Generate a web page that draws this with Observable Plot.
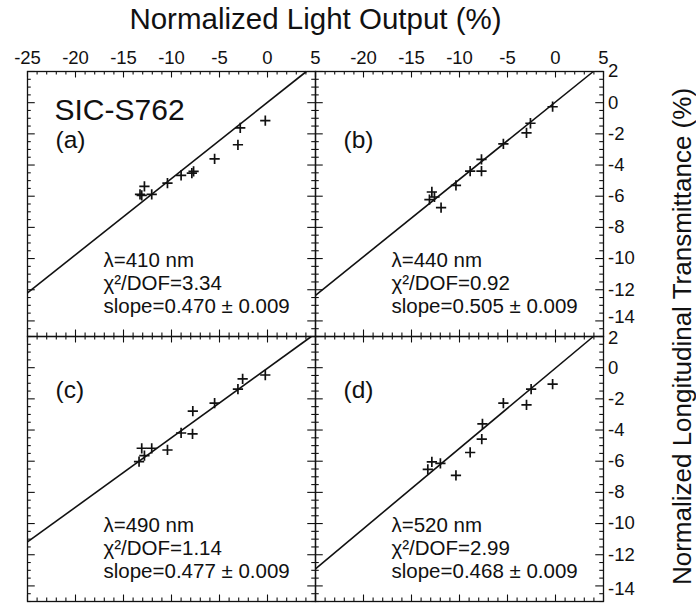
<!DOCTYPE html>
<html><head><meta charset="utf-8">
<script src="https://cdn.jsdelivr.net/npm/d3@7"></script>
<script src="https://cdn.jsdelivr.net/npm/@observablehq/plot@0.6"></script>
<style>body{margin:0;background:#fff}</style>
</head><body><div id="chart"></div>
<script>
// ---- data ----
const panelIds = ["a", "b", "c", "d"];
const panelCols = ["L", "R", "L", "R"];
const panelRows = ["top", "top", "bottom", "bottom"];
const panelLabels = ["(a)", "(b)", "(c)", "(d)"];
const wavelengths = ["λ=410 nm", "λ=440 nm", "λ=490 nm", "λ=520 nm"];
const chiLabels = ["χ²/DOF=3.34", "χ²/DOF=0.92", "χ²/DOF=1.14", "χ²/DOF=2.99"];
const slopeLabels = ["slope=0.470 ± 0.009", "slope=0.505 ± 0.009", "slope=0.477 ± 0.009", "slope=0.468 ± 0.009"];
const sampleName = "SIC-S762";

// light output (x) and transmittance (y), per panel
const xa = [-13.28, -13.1, -12.82, -12.06, -10.42, -9.0, -7.88, -7.7, -5.51, -3.08, -2.84, -0.23];
const ya = [-5.88, -5.95, -5.37, -5.88, -5.16, -4.66, -4.52, -4.41, -3.6, -2.7, -1.62, -1.15];
const xb = [-13.13, -12.88, -12.61, -11.92, -10.37, -8.89, -7.71, -7.71, -5.43, -3.02, -2.61, -0.3];
const yb = [-6.22, -5.73, -6.05, -6.73, -5.3, -4.39, -4.39, -3.64, -2.64, -1.94, -1.32, -0.26];
const xc = [-13.38, -13.1, -12.82, -12.06, -10.42, -9.0, -7.81, -7.78, -5.51, -3.08, -2.59, -0.23];
const yc = [-6.03, -5.17, -5.64, -5.17, -5.28, -4.19, -4.25, -2.79, -2.28, -1.37, -0.72, -0.47];
const xd = [-13.3, -12.88, -11.99, -10.37, -8.89, -7.68, -7.61, -5.43, -3.02, -2.54, -0.3];
const yd = [-6.53, -6.04, -6.14, -6.91, -5.44, -4.58, -3.61, -2.28, -2.39, -1.38, -1.06];
const xsAll = [xa, xb, xc, xd];
const ysAll = [ya, yb, yc, yd];

// fitted lines (end points)
const fitX1 = [-25, -25, -25, -25];
const fitY1 = [-12.2, -12.36, -11.18, -12.9];
const fitX2 = [4.05, 3.94, 4.57, 3.94];
const fitY2 = [2, 2, 2, 2];

// ticks
const xMajor = [-25, -20, -15, -10, -5, 0, 5];
const xMinor = d3.range(-25, 5.001, 1).filter(v => v % 5 !== 0);
const yMajor = [2, 0, -2, -4, -6, -8, -10, -12, -14];
const yMinor = d3.range(-15, 2.001, 0.5).filter(v => v % 2 !== 0);
const topTickLabelsL = [-25, -20, -15, -10, -5, 0, 5];
const topTickLabelsR = [-20, -15, -10, -5, 0, 5];
const rightTickLabels = [2, 0, -2, -4, -6, -8, -10, -12, -14];
const xTitle = "Normalized Light Output (%)";
const yTitle = "Normalized Longitudinal Transmittance (%)";

// ---- build tables ----
const points = panelIds.flatMap((p, i) => xsAll[i].map((x, j) => ({x, y: ysAll[i][j], col: panelCols[i], row: panelRows[i]})));
const fits = panelIds.map((p, i) => ({x1: fitX1[i], y1: fitY1[i], x2: fitX2[i], y2: fitY2[i], col: panelCols[i], row: panelRows[i]}));
const texts = panelIds.map((p, i) => ({col: panelCols[i], row: panelRows[i], label: panelLabels[i], wl: wavelengths[i], chi: chiLabels[i], slope: slopeLabels[i]}));
const topLabels = [
  ...topTickLabelsL.map(v => ({v, col: "L", row: "top"})),
  ...topTickLabelsR.map(v => ({v, col: "R", row: "top"}))
];
const rightLabels = ["top", "bottom"].flatMap(row => rightTickLabels.map(v => ({v, col: "R", row})));
const yLo = d3.min(rightTickLabels), yHi = d3.max(rightTickLabels);
// edge labels nudged inward a little, as in the reference
const rlMid = rightLabels.filter(d => !(d.row === "top" && d.v === yLo) && !(d.row === "bottom" && (d.v === yHi || d.v === yLo)));
const rlTopLow = rightLabels.filter(d => d.row === "top" && d.v === yLo);
const rlBotHigh = rightLabels.filter(d => d.row === "bottom" && d.v === yHi);
const rlBotLow = rightLabels.filter(d => d.row === "bottom" && d.v === yLo);

const W = 696, H = 605, mt = 71, mb = 4, ml = 26, mr = 92.5;
const ph = (H - mt - mb) / 2, pw = (W - ml - mr) / 2;
const ink = "#111";
const font = "Liberation Sans, Arial, Helvetica, sans-serif";
const tickW = 1.1;
const tickFont = 18.5;
const rl = (data, dy) => Plot.text(data, {y: "v", fx: "col", fy: "row", text: d => String(d.v), frameAnchor: "right", dx: 4.5, dy, textAnchor: "start", lineAnchor: "middle", fontSize: tickFont, fill: ink});

const chart = Plot.plot({
  width: W, height: H,
  marginTop: mt, marginBottom: mb, marginLeft: ml, marginRight: mr,
  x: {domain: [-25, 5], axis: null},
  y: {domain: [-15, 2], axis: null},
  fx: {domain: ["L", "R"], padding: 0, axis: null},
  fy: {domain: ["top", "bottom"], padding: 0, axis: null},
  style: {fontFamily: font, background: "#fff", color: ink, overflow: "visible"},
  marks: [
    // ticks on all four sides, pointing inward
    Plot.tickX(xMajor, {x: d => d, insetBottom: ph - 6.5, stroke: ink, strokeWidth: tickW}),
    Plot.tickX(xMinor, {x: d => d, insetBottom: ph - 3.5, stroke: ink, strokeWidth: tickW}),
    Plot.tickX(xMajor, {x: d => d, insetTop: ph - 6.5, stroke: ink, strokeWidth: tickW}),
    Plot.tickX(xMinor, {x: d => d, insetTop: ph - 3.5, stroke: ink, strokeWidth: tickW}),
    Plot.tickY(yMajor, {y: d => d, insetRight: pw - 8.5, stroke: ink, strokeWidth: tickW}),
    Plot.tickY(yMinor, {y: d => d, insetRight: pw - 4.5, stroke: ink, strokeWidth: tickW}),
    Plot.tickY(yMajor, {y: d => d, insetLeft: pw - 8.5, stroke: ink, strokeWidth: tickW}),
    Plot.tickY(yMinor, {y: d => d, insetLeft: pw - 4.5, stroke: ink, strokeWidth: tickW}),
    Plot.frame({stroke: ink, strokeWidth: 1.3}),
    // fit lines and data
    Plot.link(fits, {x1: "x1", y1: "y1", x2: "x2", y2: "y2", fx: "col", fy: "row", stroke: ink, strokeWidth: 1.6}),
    Plot.dot(points, {x: "x", y: "y", fx: "col", fy: "row", symbol: "plus", r: 3.4, stroke: ink, strokeWidth: 1.7}),
    // tick labels
    Plot.text(topLabels, {x: "v", fx: "col", fy: "row", text: d => String(d.v), frameAnchor: "top", dy: -7.5, lineAnchor: "bottom", fontSize: tickFont, fill: ink}),
    rl(rlMid, 0),
    rl(rlTopLow, -3.5),
    rl(rlBotHigh, 2),
    rl(rlBotLow, 3.5),
    // titles
    Plot.text([{col: "L", row: "top", t: xTitle}], {fx: "col", fy: "row", text: "t", frameAnchor: "top-right", dy: -43, textAnchor: "middle", lineAnchor: "bottom", fontSize: 29.5, fill: ink}),
    Plot.text([{col: "R", row: "top", t: yTitle}], {fx: "col", fy: "row", text: "t", frameAnchor: "bottom-right", dx: 79, rotate: -90, textAnchor: "middle", lineAnchor: "middle", fontSize: 26, fill: ink}),
    // panel annotations
    Plot.text([{col: "L", row: "top", t: sampleName}], {fx: "col", fy: "row", text: "t", frameAnchor: "top-left", dx: 27, dy: 48, textAnchor: "start", lineAnchor: "bottom", fontSize: 30, fill: ink}),
    Plot.text(texts.filter(d => d.row === "top"), {fx: "col", fy: "row", text: "label", frameAnchor: "top-left", dx: 28, dy: 76, textAnchor: "start", lineAnchor: "bottom", fontSize: 24.5, fill: ink}),
    Plot.text(texts.filter(d => d.row === "bottom"), {fx: "col", fy: "row", text: "label", frameAnchor: "top-left", dx: 28, dy: 61, textAnchor: "start", lineAnchor: "bottom", fontSize: 24.5, fill: ink}),
    Plot.text(texts, {fx: "col", fy: "row", text: "wl", frameAnchor: "top-left", dx: 76, dy: 195, textAnchor: "start", lineAnchor: "bottom", fontSize: 20.5, fill: ink}),
    Plot.text(texts, {fx: "col", fy: "row", text: "chi", frameAnchor: "top-left", dx: 76, dy: 218, textAnchor: "start", lineAnchor: "bottom", fontSize: 20.5, fill: ink}),
    Plot.text(texts, {fx: "col", fy: "row", text: "slope", frameAnchor: "top-left", dx: 76, dy: 241, textAnchor: "start", lineAnchor: "bottom", fontSize: 20.5, fill: ink})
  ]
});
document.getElementById("chart").appendChild(chart);
</script>
</body></html>
